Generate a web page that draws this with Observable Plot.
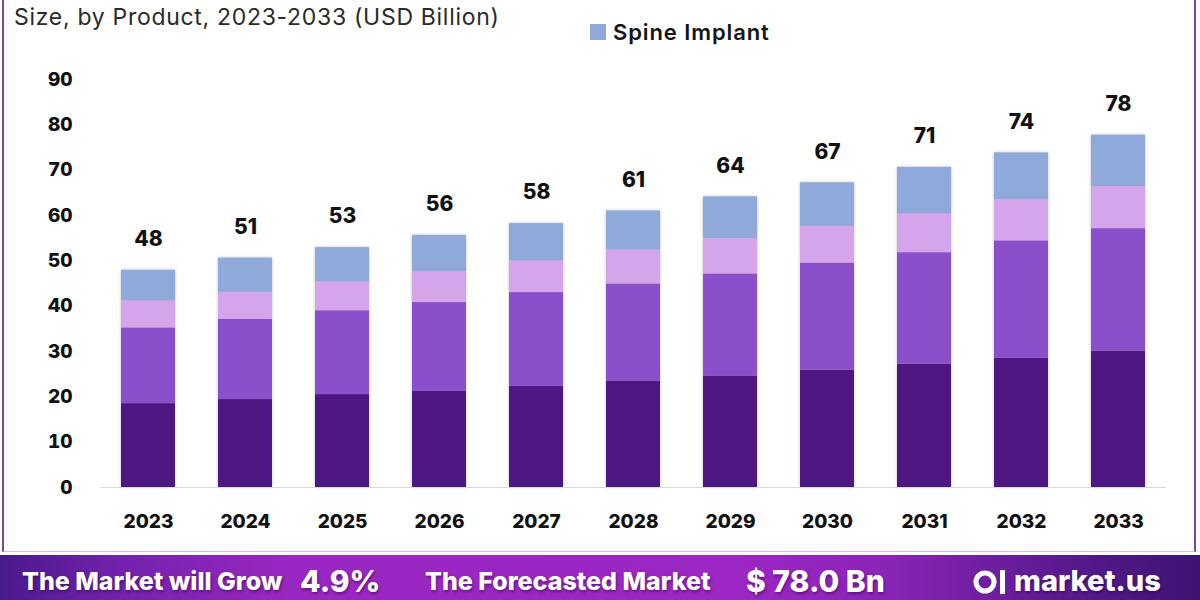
<!DOCTYPE html>
<html>
<head>
<meta charset="utf-8">
<script src="https://cdn.jsdelivr.net/npm/d3@7"></script>
<script src="https://cdn.jsdelivr.net/npm/@observablehq/plot@0.6"></script>
<style>
  html, body { margin: 0; padding: 0; background: #fff; }
  body { width: 1200px; height: 600px; overflow: hidden; position: relative; font-family: Inter, "Open Sans", sans-serif; }
  #frame { position: absolute; left: 2px; top: -4px; width: 1190px; height: 555px;
           border-left: 2px solid #7b4a8e; border-right: 2px solid #7b4a8e; border-bottom: 1px solid #d4b8df; }
  #subtitle { position: absolute; left: 14px; top: 3px; font-size: 23px; color: #2a2a2a; letter-spacing: 0.7px; }
  #legend { position: absolute; left: 590px; top: 19px; display: flex; align-items: center; gap: 7px;
            font-size: 22px; font-weight: 600; color: #151515; letter-spacing: 0.9px; }
  #legend .sw { width: 16px; height: 16px; }
  #chart { position: absolute; left: 0; top: 0; }
  #chart g[aria-label="bar"] { filter: drop-shadow(0 0 1.5px rgba(60,60,60,0.35)); }
  #banner { position: absolute; left: 0; top: 555px; width: 1200px; height: 45px;
            background: linear-gradient(90deg, #4a1a8a 0%, #7322ad 10%, #9a27c2 24%, #9c27c3 62%, #8a24b8 74%, #5c1a90 88%, #3c1472 100%); }
  .bt { position: absolute; color: #fff; font-weight: 800; white-space: nowrap; line-height: 1; text-shadow: 1px 2px 3px rgba(30,0,50,0.45); }
</style>
</head>
<body>
<div id="frame"></div>
<div id="subtitle">Size, by Product, 2023-2033 (USD Billion)</div>
<div id="legend"><div class="sw" style="background:#8fa9db"></div><span>Spine Implant</span></div>
<div id="chart"></div>
<div id="banner">
  <div class="bt" style="left:22px; top:14px; font-size:25px;">The Market will Grow</div>
  <div class="bt" style="left:300px; top:11px; font-size:30px;">4.9%</div>
  <div class="bt" style="left:425px; top:14px; font-size:25px;">The Forecasted Market</div>
  <div class="bt" style="left:746px; top:11px; font-size:30px;">$ 78.0 Bn</div>
  <svg style="position:absolute; left:972px; top:12px;" width="40" height="30">
    <circle cx="13" cy="15" r="9" fill="none" stroke="#fff" stroke-width="5"/>
    <rect x="28" y="3" width="5" height="24" fill="#fff"/>
  </svg>
  <div class="bt" style="left:1014px; top:11px; font-size:29px;">market.us</div>
</div>
<script>
// Years on the x axis
const years = ["2023","2024","2025","2026","2027","2028","2029","2030","2031","2032","2033"];
// Product segments, bottom of the stack first
const segments = ["Segment A", "Segment B", "Segment C", "Spine Implant"];
const segmentColors = ["#4f1782", "#8c4fcb", "#d4a5ea", "#8fa9db"];
// Market size by product (USD billion)
const segmentA = [18.5, 19.4, 20.5, 21.3, 22.3, 23.5, 24.6, 25.9, 27.2, 28.5, 30.1];
const segmentB = [16.7, 17.7, 18.5, 19.5, 20.7, 21.4, 22.5, 23.6, 24.6, 25.9, 27.0];
const segmentC = [6.0, 6.0, 6.4, 6.8, 7.0, 7.5, 7.8, 8.1, 8.6, 9.1, 9.3];
const spineImplant = [6.7, 7.5, 7.5, 8.0, 8.2, 8.6, 9.2, 9.6, 10.2, 10.3, 11.3];
// Y axis ticks
const yTicks = [0, 10, 20, 30, 40, 50, 60, 70, 80, 90];

const series = [segmentA, segmentB, segmentC, spineImplant];
const rows = [];
years.forEach((year, i) => {
  segments.forEach((seg, k) => rows.push({year, segment: seg, value: series[k][i]}));
});
const totals = years.map((year, i) => ({year, total: d3.sum(series, s => s[i])}));

const chart = Plot.plot({
  width: 1200,
  height: 555,
  marginTop: 79,
  marginBottom: 68,
  marginLeft: 100,
  marginRight: 34,
  style: {fontFamily: "Inter, 'Open Sans', sans-serif", background: "transparent", color: "#111"},
  x: {domain: years, paddingInner: 0.44, paddingOuter: 0.213, label: null},
  y: {domain: [0, 90], label: null},
  color: {domain: segments, range: segmentColors},
  marks: [
    Plot.barY(rows, {x: "year", y: "value", fill: "segment", order: null}),
    Plot.ruleY([0], {stroke: "#d9d9d9", strokeWidth: 1.2}),
    Plot.text(totals, {x: "year", y: "total", text: d => d3.format(".0f")(d.total),
      dy: -31, fontSize: 21, fontWeight: 800, fill: "#111"}),
    Plot.axisY({ticks: yTicks, tickSize: 0, tickPadding: 28, fontSize: 19, fontWeight: 800, label: null}),
    Plot.axisX({tickSize: 0, tickPadding: 27, fontSize: 19, fontWeight: 800, label: null})
  ]
});
document.getElementById("chart").appendChild(chart);
</script>
</body>
</html>
